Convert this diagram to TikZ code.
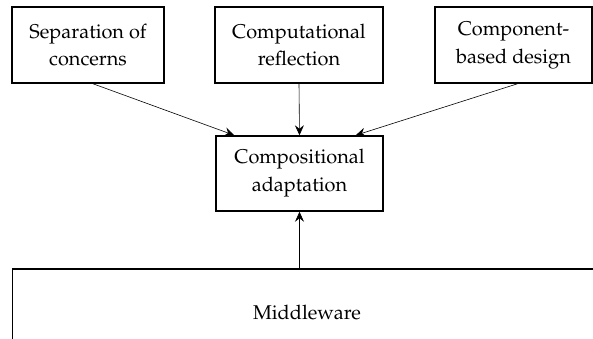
\documentclass[tikz,border=0pt]{standalone}
\usepackage[T1]{fontenc}
\usepackage{mathpazo}
\usetikzlibrary{arrows.meta,calc}
\begin{document}
\begin{tikzpicture}[x=1bp,y=-1bp,
  box/.style={draw,line width=1.5pt,align=center,inner sep=0pt,
    font=\fontsize{20}{28}\selectfont},
  conn/.style={line width=0.6pt,-{Stealth[length=10pt,width=9pt,inset=3.5pt]}}]
\useasboundingbox (0,0) rectangle (593,338);
\node[box,minimum width=152bp,minimum height=76bp] (b1) at (88,45) {Separation of\\concerns};
\node[box,minimum width=168bp,minimum height=76bp] (b2) at (299,45) {Computational\\reflection};
\node[box,minimum width=157bp,minimum height=76bp] (b3) at (513.5,45) {Component-\\based design};
\node[box,minimum width=167bp,minimum height=75bp] (comp) at (299.5,173.5) {Compositional\\adaptation};
\node[box,minimum width=610bp,minimum height=100bp,anchor=north west] (mw) at (12,268) {};
\node[font=\fontsize{20}{28}\selectfont] (mwt) at (307,312) {Middleware};
\draw[conn] ($(b1.south)+(5,0)$) -- ($(comp.north west)+(19,0)$);
\draw[conn] (b2.south) -- (comp.north);
\draw[conn] ($(b3.south)+(4,0)$) -- ($(comp.north east)+(-28,0)$);
\draw[conn] (mw.north west -| comp.south) -- (comp.south);
\end{tikzpicture}
\end{document}
